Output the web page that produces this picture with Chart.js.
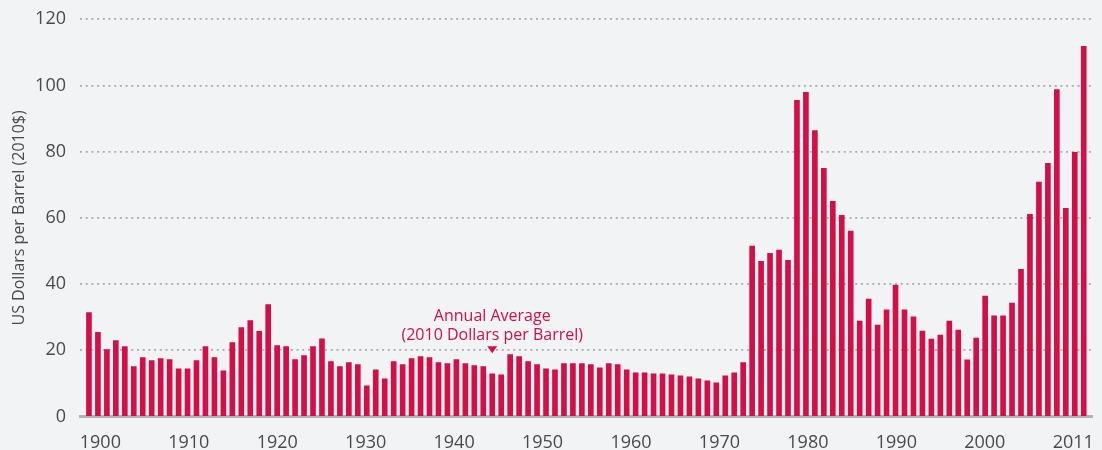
<!DOCTYPE html>
<html lang="en">
<head>
    <meta charset="UTF-8">
    <title>Crude Oil Prices 1900-2011</title>
    <script src="https://cdn.jsdelivr.net/npm/chart.js@4.4.1/dist/chart.umd.min.js"></script>
    <style>
        html, body { margin: 0; padding: 0; background: #f2f3f5; }
        #wrap { width: 1102px; height: 450px; position: relative; }
    </style>
</head>
<body>
    <div id="wrap"><canvas id="oilChart"></canvas></div>

    <script>
        // Years, one bar each
        const years = [
            1900, 1901, 1902, 1903, 1904, 1905, 1906, 1907, 1908, 1909,
            1910, 1911, 1912, 1913, 1914, 1915, 1916, 1917, 1918, 1919,
            1920, 1921, 1922, 1923, 1924, 1925, 1926, 1927, 1928, 1929,
            1930, 1931, 1932, 1933, 1934, 1935, 1936, 1937, 1938, 1939,
            1940, 1941, 1942, 1943, 1944, 1945, 1946, 1947, 1948, 1949,
            1950, 1951, 1952, 1953, 1954, 1955, 1956, 1957, 1958, 1959,
            1960, 1961, 1962, 1963, 1964, 1965, 1966, 1967, 1968, 1969,
            1970, 1971, 1972, 1973, 1974, 1975, 1976, 1977, 1978, 1979,
            1980, 1981, 1982, 1983, 1984, 1985, 1986, 1987, 1988, 1989,
            1990, 1991, 1992, 1993, 1994, 1995, 1996, 1997, 1998, 1999,
            2000, 2001, 2002, 2003, 2004, 2005, 2006, 2007, 2008, 2009,
            2010, 2011
        ];

        // Annual average price, US$ per barrel (2010 dollars)
        const prices = [
            31.4, 25.4, 20.2, 22.9, 21.1, 15.1, 17.8, 16.9, 17.5, 17.2,
            14.4, 14.4, 16.9, 21.1, 17.8, 13.8, 22.3, 26.9, 29.0, 25.7,
            33.8, 21.4, 21.1, 17.2, 18.4, 21.1, 23.5, 16.6, 15.1, 16.3,
            15.7, 9.3, 14.1, 11.4, 16.6, 15.7, 17.5, 18.1, 17.8, 16.3,
            16.0, 17.2, 16.0, 15.4, 15.1, 12.9, 12.6, 18.7, 18.1, 16.6,
            15.7, 14.4, 14.1, 16.0, 16.0, 16.0, 15.7, 14.7, 16.0, 15.7,
            14.1, 13.2, 13.2, 12.9, 12.9, 12.6, 12.3, 12.0, 11.4, 10.8,
            10.2, 12.3, 13.2, 16.3, 51.5, 46.9, 49.3, 50.3, 47.2, 95.5,
            97.9, 86.4, 75.0, 65.0, 60.8, 56.0, 28.8, 35.5, 27.6, 32.2,
            39.7, 32.2, 30.1, 25.8, 23.4, 24.6, 28.8, 26.1, 17.1, 23.7,
            36.4, 30.4, 30.4, 34.3, 44.5, 61.1, 70.8, 76.5, 98.8, 62.9,
            79.8, 111.8
        ];

        // Axis labels as printed under the chart
        const xTickLabels = ['1900', '1910', '1920', '1930', '1940', '1950',
                             '1960', '1970', '1980', '1990', '2000', '2011'];
        const xTickValues = [1900, 1910, 1920, 1930, 1940, 1950,
                             1960, 1970, 1980, 1990, 2000, 2010];

        // Callout
        const noteLines = ['Annual Average', '(2010 Dollars per Barrel)'];
        const noteYear = 1945;
        const noteLevel = 20;

        const RED = '#d20f46';
        const FONT = "'Open Sans', 'Noto Sans', sans-serif";

        const calloutPlugin = {
            id: 'callout',
            afterDatasetsDraw(chart) {
                const { ctx, scales } = chart;
                const px = scales.x.getPixelForValue(noteYear);
                const py = scales.y.getPixelForValue(noteLevel);
                ctx.save();
                // little down arrow
                ctx.fillStyle = RED;
                ctx.beginPath();
                ctx.moveTo(px - 5, py - 4);
                ctx.lineTo(px + 5, py - 4);
                ctx.lineTo(px, py + 3);
                ctx.closePath();
                ctx.fill();
                // text
                ctx.font = '16px ' + FONT;
                ctx.textAlign = 'center';
                ctx.textBaseline = 'alphabetic';
                ctx.fillText(noteLines[0], px, py - 29);
                ctx.fillText(noteLines[1], px, py - 10);
                ctx.restore();
            }
        };

        new Chart(document.getElementById('oilChart'), {
            type: 'bar',
            data: {
                labels: years,
                datasets: [{
                    data: prices,
                    backgroundColor: RED,
                    barThickness: 5
                }]
            },
            options: {
                responsive: true,
                maintainAspectRatio: false,
                animation: false,
                layout: { padding: { top: 19.3, right: 2, left: 0, bottom: 0 } },
                plugins: {
                    legend: { display: false },
                    tooltip: { enabled: false }
                },
                scales: {
                    x: {
                        type: 'linear',
                        min: 1899,
                        max: 2012,
                        offset: false,
                        grid: { display: false, offset: false },
                        ticks: { display: false },
                        border: { display: true, color: '#b2b2b2', width: 3 },
                        afterFit: s => { s.height = 0; }
                    },
                    xt: {
                        type: 'linear',
                        position: 'bottom',
                        min: 1897.7,
                        max: 2012.2,
                        offset: false,
                        grid: { display: false, offset: false },
                        border: { display: false },
                        afterBuildTicks: s => { s.ticks = xTickValues.map(v => ({ value: v })); },
                        ticks: {
                            autoSkip: false,
                            maxRotation: 0,
                            padding: 8,
                            color: '#4a4a4a',
                            font: { family: FONT, size: 18 },
                            callback: (v, i) => xTickLabels[i]
                        },
                        afterFit: s => { s.height = 33.5; }
                    },
                    y: {
                        min: 0,
                        max: 120,
                        ticks: {
                            stepSize: 20,
                            padding: 14,
                            color: '#4a4a4a',
                            font: { family: FONT, size: 18 }
                        },
                        grid: {
                            drawTicks: false,
                            lineWidth: 1.8,
                            color: c => c.tick && c.tick.value === 0 ? 'rgba(0,0,0,0)' : '#ababab'
                        },
                        border: { display: false, dash: [2, 3.7] },
                        title: {
                            display: true,
                            text: 'US Dollars per Barrel (2010$)',
                            color: '#4a4a4a',
                            font: { family: FONT, size: 16 },
                            padding: { top: 10, bottom: 0 }
                        },
                        afterFit: s => {
                            s.width = 80;
                            s.paddingTop = 0;
                            s.paddingBottom = 0;
                        }
                    }
                }
            },
            plugins: [calloutPlugin]
        });
    </script>
</body>
</html>
